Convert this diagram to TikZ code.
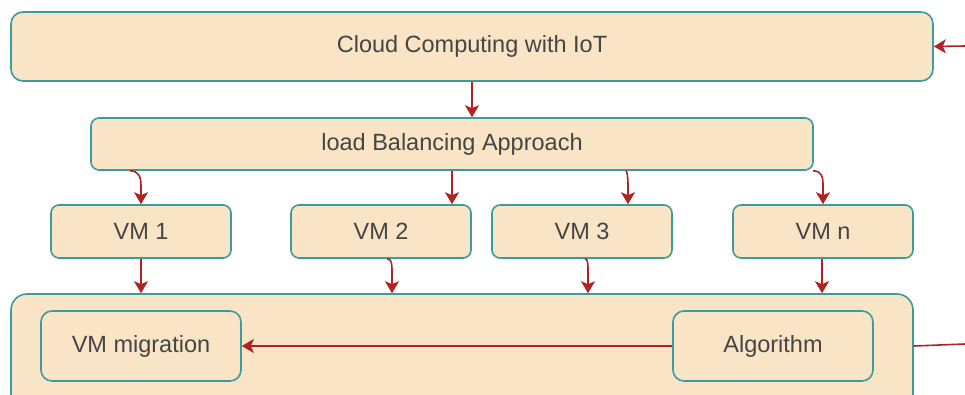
\documentclass[tikz,border=0pt]{standalone}
\usepackage{fontspec}
\setmainfont{Liberation Sans}
\usetikzlibrary{arrows.meta}
\definecolor{boxfill}{HTML}{FAE4C6}
\definecolor{boxline}{HTML}{3A9C9C}
\definecolor{arrred}{HTML}{B22222}
\definecolor{txt}{HTML}{454545}
\tikzset{
  box/.style={draw=boxline, fill=boxfill, line width=1.6pt, rectangle, text=txt,
    font=\fontsize{23.5}{27}\selectfont, inner sep=0pt},
  arr/.style={draw=arrred, line width=1.6pt, -{Stealth[length=12pt,width=14pt,inset=3pt]}},
  ln/.style={draw=arrred, line width=1.6pt},
}
\begin{document}
\begin{tikzpicture}[x=1pt,y=-1pt]
\clip (0,0) rectangle (965,394);
\useasboundingbox (0,0) rectangle (965,394);
\node[box, rounded corners=12pt, minimum width=922pt, minimum height=69pt] (top) at (472,46.5) {Cloud Computing with IoT};
\node[box, rounded corners=8pt, minimum width=722pt, minimum height=52pt] (lb) at (452,144) {load Balancing Approach};
\node[box, rounded corners=8pt, minimum width=180pt, minimum height=53pt] (vm1) at (141,231.5) {VM 1};
\node[box, rounded corners=8pt, minimum width=180pt, minimum height=53pt] (vm2) at (381,231.5) {VM 2};
\node[box, rounded corners=8pt, minimum width=180pt, minimum height=53pt] (vm3) at (582,231.5) {VM 3};
\node[box, rounded corners=8pt, minimum width=180pt, minimum height=53pt] (vmn) at (823,231.5) {VM n};
\node[box, rounded corners=16pt, minimum width=902pt, minimum height=116pt] (bot) at (462,352) {};
\node[box, rounded corners=11pt, minimum width=200pt, minimum height=70pt] (mig) at (141,346) {VM migration};
\node[box, rounded corners=11pt, minimum width=200pt, minimum height=70pt] (alg) at (773,346) {Algorithm};
\coordinate (r1) at (965,344);
\coordinate (r2) at (965,46);
% connectors
\draw[arr] (top.south) -- (top.south |- lb.north);
\draw[arr] ([xshift=-11pt]vm1.north |- lb.south) .. controls +(9,0) and +(0,-9) .. ([yshift=18pt]vm1.north) -- (vm1.north);
\draw[arr] (lb.south) -- (lb.south |- vm2.north);
\draw[arr] ([xshift=44pt]vm3.north |- lb.south) .. controls +(1,0) and +(0,-6) .. ([xshift=46pt,yshift=20pt]vm3.north) -- ([xshift=46pt]vm3.north);
\draw[arr] ([xshift=-10pt]vmn.north |- lb.south) .. controls +(9,0) and +(0,-9) .. ([yshift=18pt]vmn.north) -- (vmn.north);
\draw[arr] (vm1.south) -- (vm1.south |- bot.north);
\draw[arr] ([xshift=6pt]vm2.south) .. controls +(5,0) and +(0,-7) .. ([xshift=11pt,yshift=-13pt]vm2.south) -- ([xshift=11pt]vm2.south |- bot.north);
\draw[arr] ([xshift=3pt]vm3.south) .. controls +(3,0) and +(0,-6) .. ([xshift=6pt,yshift=-12pt]vm3.south) -- ([xshift=6pt]vm3.south |- bot.north);
\draw[arr] ([xshift=-1pt]vmn.south) -- ([xshift=-1pt]vmn.south |- bot.north);
\draw[arr] (alg.west) -- (mig.east);
\draw[ln] ([yshift=6pt]bot.east) -- (r1);
\draw[arr] (r2) -- (top.east);
\end{tikzpicture}
\end{document}
